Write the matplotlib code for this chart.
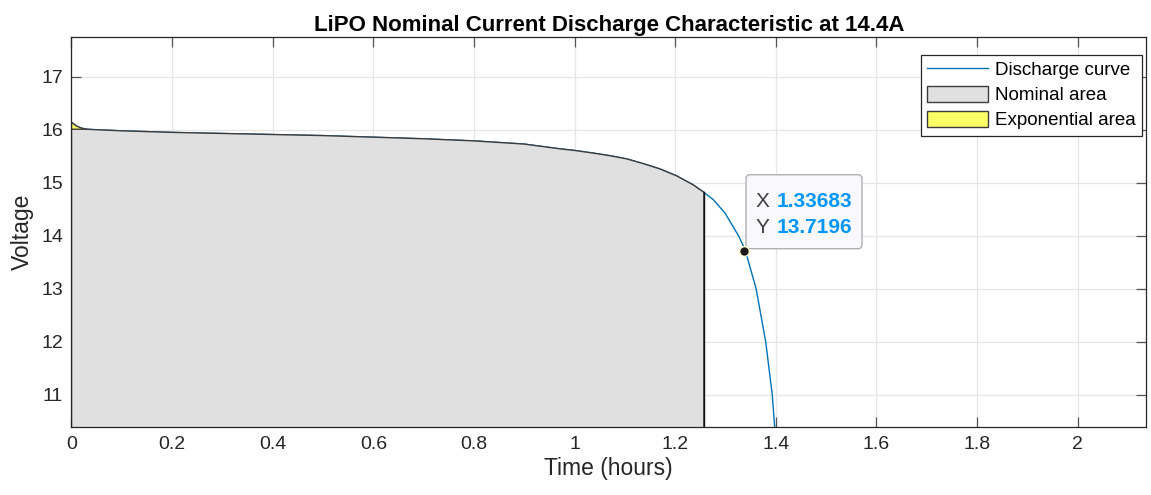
"""
LiPO discharge characteristic (MATLAB-style battery plot)
"""
import numpy as np
import matplotlib
matplotlib.use("Agg")
import matplotlib.pyplot as plt
from matplotlib.lines import Line2D
from matplotlib.patches import Patch, FancyBboxPatch
from matplotlib.transforms import IdentityTransform

plt.rcParams['font.family'] = ['Liberation Sans', 'DejaVu Sans']

# discharge curve
time_h = [0, 0.01, 0.02, 0.03, 0.05, 0.1, 0.2, 0.3, 0.4, 0.5, 0.6, 0.7,
          0.8, 0.9, 0.971, 1.0, 1.037, 1.071, 1.104, 1.137, 1.170, 1.203,
          1.236, 1.257, 1.276, 1.299, 1.326, 1.339, 1.361, 1.380, 1.393, 1.398]
voltage = [16.14, 16.07, 16.03, 16.01, 16.0, 15.98, 15.95, 15.93, 15.91,
           15.89, 15.86, 15.83, 15.79, 15.73, 15.64, 15.61, 15.56, 15.51,
           15.45, 15.36, 15.26, 15.13, 14.96, 14.82, 14.68, 14.43, 14.0,
           13.74, 13.0, 12.0, 11.0, 10.37]

q_exp = 0.03      # end of exponential zone (hours)
q_nom = 1.257     # end of nominal zone (hours)
tip_x = 1.33683
tip_y = 13.7196

x_ticks = [0, 0.2, 0.4, 0.6, 0.8, 1, 1.2, 1.4, 1.6, 1.8, 2]
x_labels = ['0', '0.2', '0.4', '0.6', '0.8', '1', '1.2', '1.4', '1.6', '1.8', '2']
y_ticks = [11, 12, 13, 14, 15, 16, 17]

t = np.array(time_h)
v = np.array(voltage)
floor_v = 5.0

fig = plt.figure(figsize=(11.51, 4.95), dpi=100)
ax = fig.add_axes([0.0621, 0.1368, 0.9336, 0.7891])

blue = '#0072BD'
edge = '#3c3c3c'

ax.plot(t, v, color=blue, lw=1.0, zorder=2)

# exponential area (yellow) under the curve up to q_exp
v_exp = np.interp(q_exp, t, v)
m = t < q_exp
ex = np.concatenate([[0], t[m], [q_exp, q_exp]])
ey = np.concatenate([[floor_v], v[m], [v_exp, floor_v]])
ax.fill(ex, ey, facecolor='#FFFF66', edgecolor=edge, lw=1.0, zorder=3)

# nominal area (gray)
v_nom = np.interp(q_nom, t, v)
m = (t > q_exp) & (t < q_nom)
nx = np.concatenate([[0, 0, q_exp], t[m], [q_nom, q_nom]])
ny = np.concatenate([[floor_v, v_exp, v_exp], v[m], [v_nom, floor_v]])
ax.fill(nx, ny, facecolor='#E0E0E0', edgecolor=edge, lw=1.0, zorder=4)
ax.plot([q_nom, q_nom], [floor_v, v_nom], color='#111111', lw=1.0, zorder=5)

ax.set_xlim(0, 2.136)
ax.set_ylim(10.39, 17.755)
ax.set_xticks(x_ticks)
ax.set_xticklabels(x_labels)
ax.set_yticks(y_ticks)
ax.grid(True, color='#e6e6e6', lw=0.9, zorder=0)
ax.set_axisbelow(True)
for s in ax.spines.values():
    s.set_color('#262626')
    s.set_linewidth(0.9)
    s.set_zorder(6)
ax.tick_params(direction='in', top=True, right=True, length=7, width=0.9,
               color='#555555', labelcolor='#262626', labelsize=14, pad=6)
ax.set_xlabel('Time (hours)', fontsize=16.5, color='#262626', labelpad=3)
ax.set_ylabel('Voltage', fontsize=16.5, color='#262626', labelpad=5)
ax.set_title('LiPO Nominal Current Discharge Characteristic at 14.4A',
             fontsize=16, fontweight='bold', pad=4)

# data tip
ax.plot([tip_x], [tip_y], 'o', ms=7, mfc='#1a1a1a', mec='#ffffcc', mew=1.0,
        zorder=8)
mx, my = ax.transData.transform((tip_x, tip_y))
box = FancyBboxPatch((mx + 2, my + 2), 116, 74,
                     boxstyle='round,pad=0,rounding_size=4',
                     transform=IdentityTransform(), facecolor='#f8f8fd',
                     edgecolor='#b0b0b0', lw=1.0, zorder=7)
ax.add_patch(box)
for dy, lab, val in [(49, 'X', '%.5f' % tip_x), (23, 'Y', '%.4f' % tip_y)]:
    ax.text(mx + 12, my + dy, lab, transform=IdentityTransform(), fontsize=15,
            color='#404040', va='center', ha='left', zorder=9)
    ax.text(mx + 33, my + dy, val, transform=IdentityTransform(), fontsize=15,
            color='#0096FF', fontweight='bold', va='center', ha='left', zorder=9)

handles = [Line2D([], [], color=blue, lw=1.0),
           Patch(facecolor='#E0E0E0', edgecolor=edge),
           Patch(facecolor='#FFFF66', edgecolor=edge)]
leg = ax.legend(handles, ['Discharge curve', 'Nominal area', 'Exponential area'],
                loc='upper right', bbox_to_anchor=(0.9965, 0.954), fontsize=13.5,
                fancybox=False, framealpha=1, edgecolor='#262626',
                handlelength=3.25, handleheight=0.9, handletextpad=0.37,
                labelspacing=0.36, borderpad=0.35, borderaxespad=0)
leg.get_frame().set_linewidth(0.9)
leg.set_zorder(10)

fig.savefig('out.png', dpi=100)
